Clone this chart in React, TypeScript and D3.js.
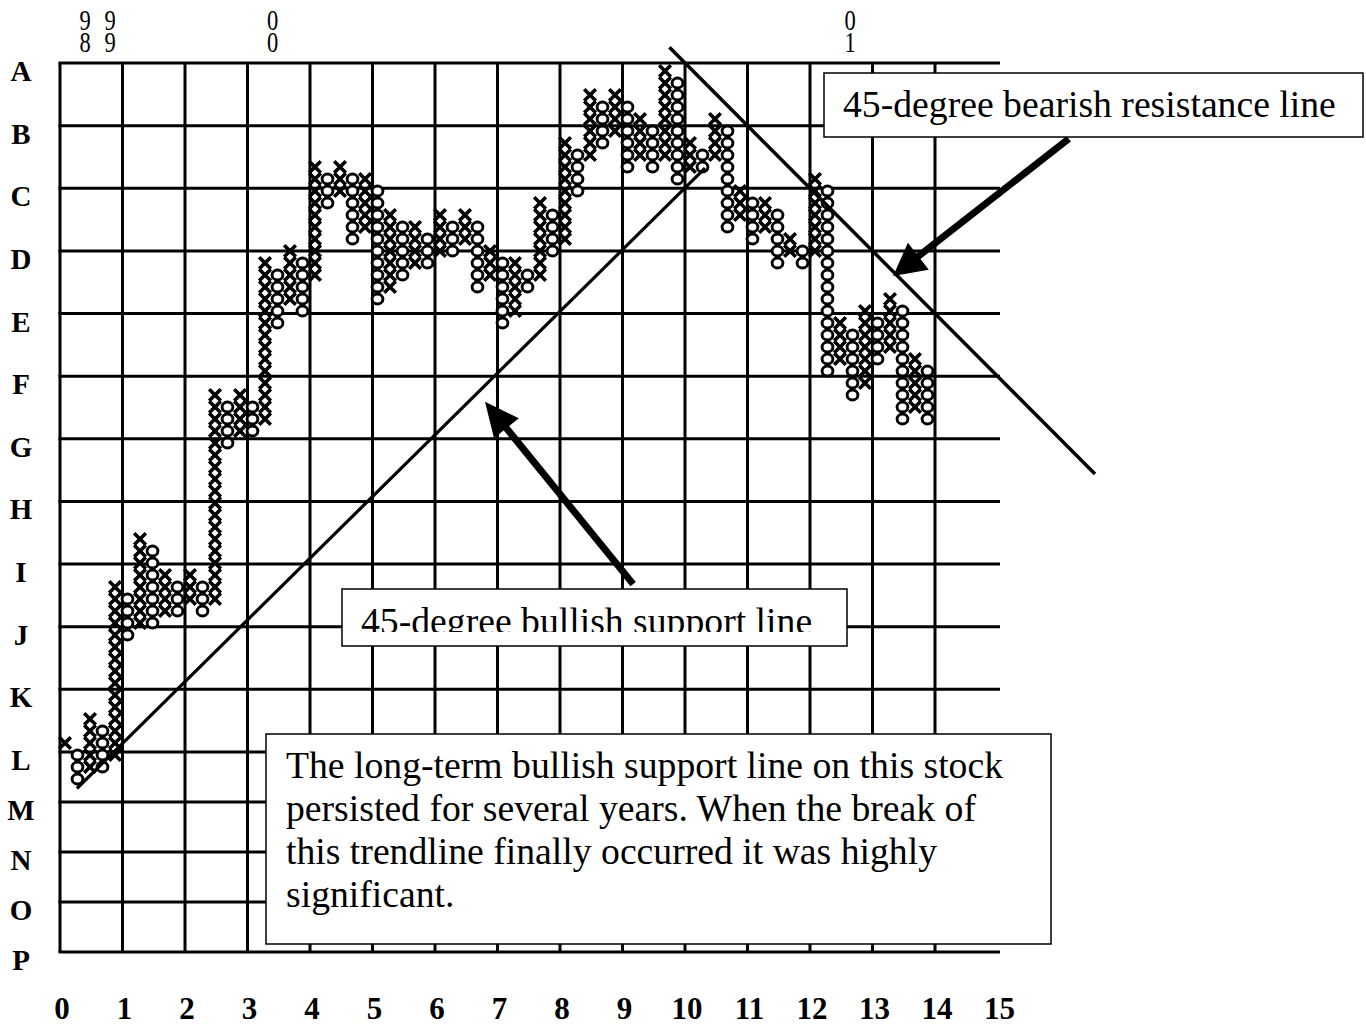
import React from 'react';
import * as d3 from 'd3';

// ---- data ----
const rowLabels = ['A', 'B', 'C', 'D', 'E', 'F', 'G', 'H', 'I', 'J', 'K', 'L', 'M', 'N', 'O', 'P'];
const colLabels = ['0', '1', '2', '3', '4', '5', '6', '7', '8', '9', '10', '11', '12', '13', '14', '15'];

// point & figure columns (box units)
const colTypes = [
  'X', 'O', 'X', 'O', 'X', 'O', 'X', 'O', 'X', 'O',
  'X', 'O', 'X', 'O', 'X', 'O', 'X', 'O', 'X', 'O',
  'X', 'O', 'X', 'O', 'X', 'O', 'X', 'O', 'X', 'O',
  'X', 'O', 'X', 'O', 'X', 'O', 'X', 'O', 'X', 'O',
  'X', 'O', 'X', 'O', 'X', 'O', 'X', 'O', 'X', 'O',
  'X', 'O', 'X', 'O', 'X', 'O', 'X', 'O', 'X', 'O',
  'X', 'O', 'X', 'O', 'X', 'O', 'X', 'O', 'X', 'O',
];
const colLow = [
  3, 0, 1, 1, 2, 12, 13, 13, 14, 14,
  15, 14, 15, 28, 29, 29, 30, 38, 40, 39,
  42, 48, 49, 45, 46, 40, 41, 42, 43, 43,
  44, 44, 45, 41, 42, 38, 39, 41, 42, 44,
  45, 49, 52, 53, 54, 51, 52, 51, 52, 50,
  51, 51, 52, 46, 47, 45, 46, 43, 44, 43,
  44, 34, 35, 32, 33, 35, 36, 30, 31, 30,
];
const colHigh = [
  3, 2, 5, 4, 16, 15, 20, 19, 17, 16,
  17, 16, 32, 31, 32, 31, 43, 42, 44, 43,
  51, 50, 51, 50, 50, 49, 47, 46, 46, 45,
  47, 46, 47, 46, 44, 43, 43, 42, 48, 47,
  53, 52, 57, 56, 57, 56, 55, 54, 59, 58,
  53, 52, 55, 54, 49, 48, 48, 47, 45, 44,
  50, 49, 38, 37, 39, 38, 40, 39, 35, 34,
];

const yearCol = [1.6, 3.6, 16.6, 62.8];
const yearTop = ['9', '9', '0', '0'];
const yearBottom = ['8', '9', '0', '1'];

// trendlines in grid units [gridX, row]
const bullishLine: [number, number][] = [[0.27, 11.73], [10.32, 1.68]];
const bearishLine: [number, number][] = [[9.75, -0.25], [16.56, 6.56]];
const arrowLines: { from: [number, number]; to: [number, number] }[] = [
  { from: [16.14, 1.21], to: [13.33, 3.4] },
  { from: [9.17, 8.32], to: [6.8, 5.41] },
];

const bearishText = '45-degree bearish resistance line';
const bullishText = '45-degree bullish support line';
const noteLines = [
  'The long-term bullish support line on this stock',
  'persisted for several years. When the break of',
  'this trendline finally occurred it was highly',
  'significant.',
];

const FONT = "'Liberation Serif', 'Times New Roman', serif";

export default function App() {
  const W = 1366;
  const H = 1026;

  const gx = d3.scaleLinear().domain([0, 15]).range([60, 997.5]);
  const gy = d3.scaleLinear().domain([0, 11, 15]).range([63, 752, 952]);
  const colX = d3.scaleLinear().domain([0, 69]).range([65, 927.5]);
  const boxY = d3.scaleLinear().domain([0, 59]).range([779, 71]);

  const line = d3
    .line<[number, number]>()
    .x((d) => gx(d[0]))
    .y((d) => gy(d[1]));

  const symbols: { t: string; x: number; y: number; k: string }[] = [];
  colTypes.forEach((t, k) => {
    for (let b = colLow[k]; b <= colHigh[k]; b++) {
      symbols.push({ t, x: colX(k), y: boxY(b), k: `${k}-${b}` });
    }
  });

  const arrowShapes = arrowLines.map((a, i) => {
    const x1 = gx(a.from[0]);
    const y1 = gy(a.from[1]);
    const x2 = gx(a.to[0]);
    const y2 = gy(a.to[1]);
    const dx = x2 - x1;
    const dy = y2 - y1;
    const len = Math.hypot(dx, dy);
    const ux = dx / len;
    const uy = dy / len;
    const headL = i === 0 ? 32 : 34;
    const headW = i === 0 ? 17 : 16;
    const bx = x2 - ux * headL;
    const by = y2 - uy * headL;
    const px = -uy;
    const py = ux;
    const head = [
      [x2, y2],
      [bx + px * headW, by + py * headW],
      [bx - px * headW, by - py * headW],
    ]
      .map((p) => p.join(','))
      .join(' ');
    return { x1, y1, x2: bx + ux * 4, y2: by + uy * 4, head };
  });

  return (
    <svg
      width={W}
      height={H}
      style={{ position: 'absolute', left: 0, top: 0, background: '#fff' }}
      xmlns="http://www.w3.org/2000/svg"
    >
      <defs>
        <clipPath id="bullClip">
          <rect x={343} y={590} width={503} height={42} />
        </clipPath>
      </defs>
      <rect x={0} y={0} width={W} height={H} fill="#fff" />

      {/* grid */}
      {rowLabels.map((r, i) => (
        <line key={'h' + r} x1={gx(0) - 1.5} x2={1000} y1={gy(i)} y2={gy(i)} stroke="#000" strokeWidth={3} />
      ))}
      {d3.range(15).map((i) => (
        <line key={'v' + i} x1={gx(i)} x2={gx(i)} y1={gy(0)} y2={gy(15)} stroke="#000" strokeWidth={3} />
      ))}

      {/* row labels */}
      {rowLabels.map((r, i) => (
        <text
          key={'rl' + r}
          x={21}
          y={gy(i) + 18}
          textAnchor="middle"
          fontFamily={FONT}
          fontWeight="bold"
          fontSize={29}
        >
          {r}
        </text>
      ))}
      {/* column labels */}
      {colLabels.map((c, i) => (
        <text
          key={'cl' + c}
          x={gx(i) + 2}
          y={1019}
          textAnchor="middle"
          fontFamily={FONT}
          fontWeight="bold"
          fontSize={31}
        >
          {c}
        </text>
      ))}

      {/* year markers */}
      {yearCol.map((c, i) => (
        <g key={'yr' + i} transform={`translate(${colX(c)},0) scale(0.75,1)`}>
          <text x={0} y={30} textAnchor="middle" fontFamily={FONT} fontSize={30}>
            <tspan x={0} y={30}>{yearTop[i]}</tspan>
            <tspan x={0} y={52}>{yearBottom[i]}</tspan>
          </text>
        </g>
      ))}

      {/* point & figure symbols */}
      {symbols.map((s) =>
        s.t === 'O' ? (
          <ellipse key={s.k} cx={s.x} cy={s.y} rx={5.4} ry={5} fill="#fff" stroke="#000" strokeWidth={2.9} />
        ) : (
          <path
            key={s.k}
            transform={`translate(${s.x},${s.y})`}
            d="M-5.8,-5.8L5.8,5.8M-5.8,5.8L5.8,-5.8"
            stroke="#000"
            strokeWidth={3.6}
            fill="none"
          />
        )
      )}

      {/* trendlines */}
      <path d={line(bullishLine) || ''} stroke="#000" strokeWidth={3.2} fill="none" />
      <path d={line(bearishLine) || ''} stroke="#000" strokeWidth={3.5} fill="none" />

      {/* arrows */}
      {arrowShapes.map((a, i) => (
        <g key={'ar' + i}>
          <line x1={a.x1} y1={a.y1} x2={a.x2} y2={a.y2} stroke="#000" strokeWidth={7} />
          <polygon points={a.head} fill="#000" />
        </g>
      ))}

      {/* bearish box */}
      <rect x={824} y={73} width={539} height={64} fill="#fff" stroke="#000" strokeWidth={1.5} />
      <text x={843} y={117} fontFamily={FONT} fontSize={37.7}>
        {bearishText}
      </text>

      {/* bullish box */}
      <rect x={342} y={589} width={505} height={57} fill="#fff" stroke="#000" strokeWidth={1.5} />
      <g clipPath="url(#bullClip)">
        <text x={361} y={634} fontFamily={FONT} fontSize={37.7}>
          {bullishText}
        </text>
      </g>

      {/* note box */}
      <rect x={266} y={734} width={785} height={210} fill="#fff" stroke="#000" strokeWidth={1.5} />
      {noteLines.map((t, i) => (
        <text key={'n' + i} x={286} y={778 + i * 43} fontFamily={FONT} fontSize={37.7}>
          {t}
        </text>
      ))}
    </svg>
  );
}
